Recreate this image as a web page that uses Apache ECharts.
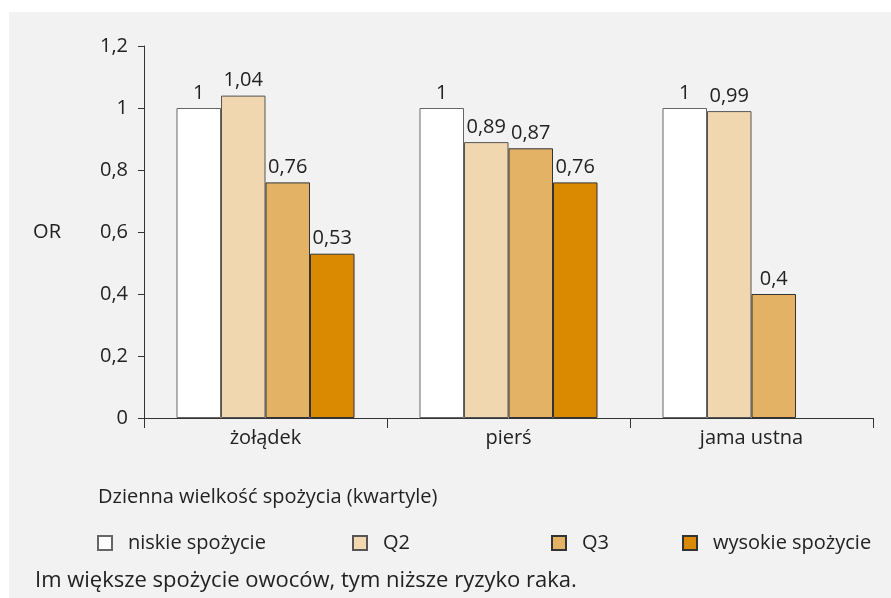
<!DOCTYPE html>
<html>
<head>
<meta charset="utf-8">
<script src="https://cdn.jsdelivr.net/npm/echarts@6/dist/echarts.min.js"></script>
<style>
  html, body { margin: 0; padding: 0; background: #ffffff; }
  #frame { position: absolute; left: 9px; top: 12px; width: 882px; height: 586px; background: #f2f2f2; }
  #chart { position: absolute; left: 0; top: 0; width: 891px; height: 598px; }
</style>
</head>
<body>
<div id="frame"></div>
<div id="chart"></div>
<script>
// Odds ratio of cancer by daily fruit intake quartile
const categories = ['żołądek', 'pierś', 'jama ustna'];
const seriesNames = ['niskie spożycie', 'Q2', 'Q3', 'wysokie spożycie'];
const niskie = [1, 1, 1];
const q2 = [1.04, 0.89, 0.99];
const q3 = [0.76, 0.87, 0.4];
const wysokie = [0.53, 0.76, null];
const yTicks = [0, 0.2, 0.4, 0.6, 0.8, 1, 1.2];

const values = [niskie, q2, q3, wysokie];
const colors = ['#ffffff', '#f1d7b0', '#e4b264', '#d98a00'];
const borders = ['#666666', '#555555', '#333333', '#333333'];
const FONT = '"Open Sans", "Noto Sans", sans-serif';
const TXT = '#222222';
const FS = 20;

const fmt = v => String(v).replace('.', ',');

const chart = echarts.init(document.getElementById('chart'), null, { renderer: 'canvas' });

const legendLeft = [97, 352, 551, 682];

chart.setOption({
  backgroundColor: 'transparent',
  animation: false,
  textStyle: { fontFamily: FONT, color: TXT },
  title: [
    {
      text: 'Dzienna wielkość spożycia (kwartyle)',
      left: 93, top: 482,
      textStyle: { fontFamily: FONT, fontSize: FS, fontWeight: 'normal', color: TXT }
    },
    {
      text: 'Im większe spożycie owoców, tym niższe ryzyko raka.',
      left: 30, top: 565,
      textStyle: { fontFamily: FONT, fontSize: 22, fontWeight: 'normal', color: TXT }
    }
  ],
  legend: seriesNames.map((name, i) => ({
    data: [name],
    left: legendLeft[i] - 5,
    top: 528,
    icon: 'rect',
    itemWidth: 14,
    itemHeight: 14,
    itemGap: 0,
    selectedMode: false,
    textStyle: { fontFamily: FONT, fontSize: FS, color: TXT, padding: [0, 0, 0, 11] }
  })),
  grid: { left: 144, right: 18, top: 46, bottom: 180 },
  xAxis: {
    type: 'category',
    data: categories,
    axisLine: { lineStyle: { color: '#333333', width: 1 } },
    axisTick: { show: true, length: 10, lineStyle: { color: '#333333' } },
    axisLabel: { fontFamily: FONT, fontSize: FS, color: TXT, margin: 10 }
  },
  yAxis: {
    type: 'value',
    min: 0, max: 1.2, interval: 0.2,
    name: 'OR',
    nameLocation: 'middle',
    nameRotate: 0,
    nameGap: 83,
    nameTextStyle: { fontFamily: FONT, fontSize: FS, color: TXT },
    splitLine: { show: false },
    axisLine: { show: true, lineStyle: { color: '#333333', width: 1 } },
    axisTick: { show: true, length: 6, lineStyle: { color: '#333333' } },
    axisLabel: {
      fontFamily: FONT, fontSize: FS, color: TXT, margin: 16,
      formatter: v => {
        const t = yTicks.find(x => Math.abs(x - v) < 1e-9);
        return fmt(t !== undefined ? t : v);
      }
    }
  },
  series: seriesNames.map((name, i) => ({
    name,
    type: 'bar',
    data: values[i],
    barWidth: 44.5,
    barGap: '0%',
    itemStyle: { color: colors[i], borderColor: borders[i], borderWidth: 1 },
    label: {
      show: true,
      position: 'top',
      distance: 5,
      fontFamily: FONT, fontSize: FS, color: TXT,
      formatter: p => fmt(p.value)
    }
  }))
});
</script>
</body>
</html>
